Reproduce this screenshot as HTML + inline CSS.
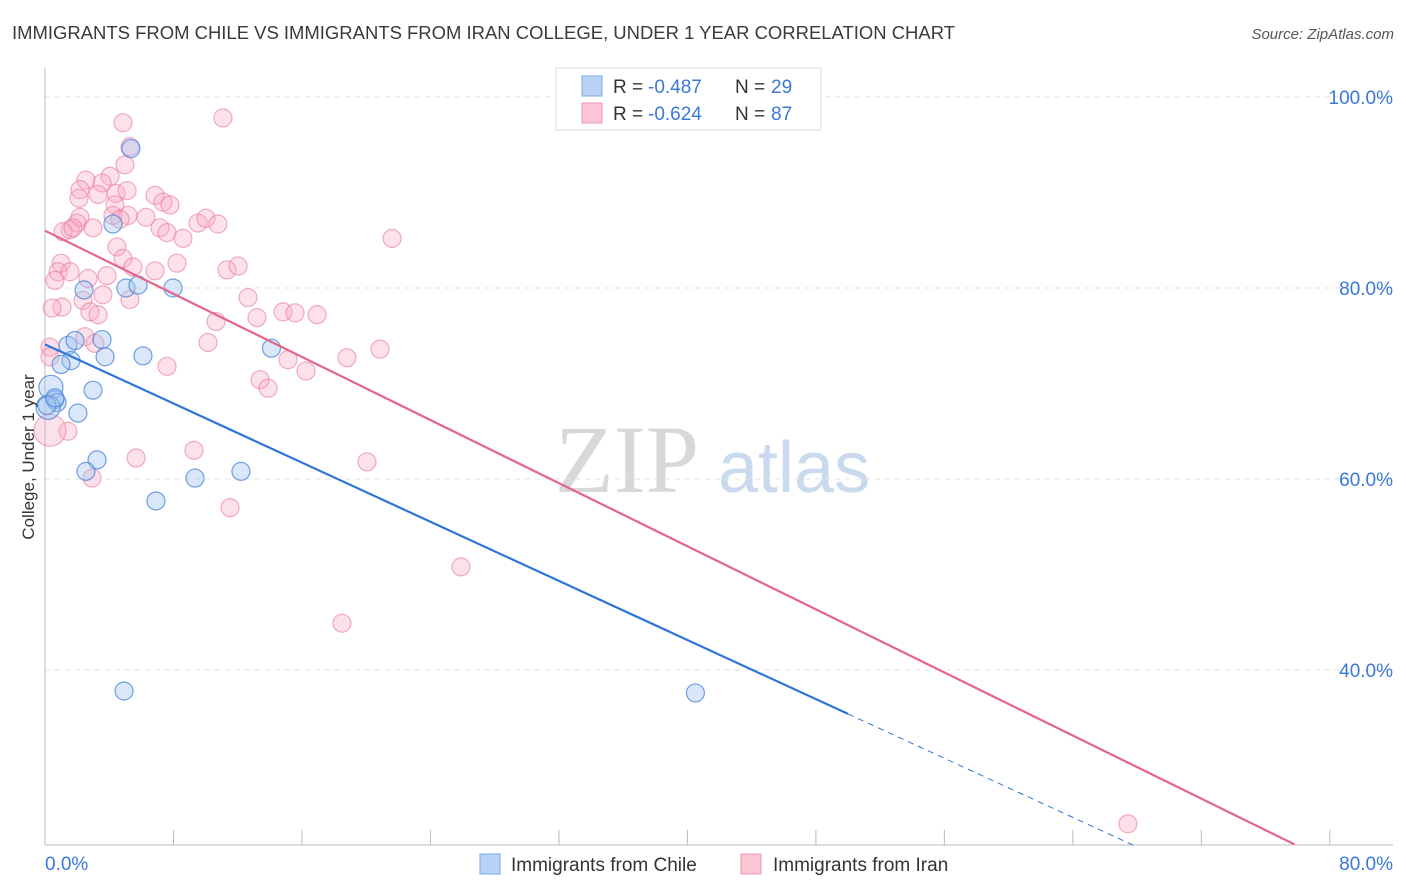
<!DOCTYPE html>
<html><head><meta charset="utf-8">
<style>
body{margin:0;background:#fff;font-family:"Liberation Sans",sans-serif;}
svg{display:block}
</style></head>
<body>
<svg id="chart" width="1406" height="892" viewBox="0 0 1406 892" xmlns="http://www.w3.org/2000/svg">
<text x="12" y="39" font-size="18" fill="#3a3a3a" textLength="943" lengthAdjust="spacingAndGlyphs">IMMIGRANTS FROM CHILE VS IMMIGRANTS FROM IRAN COLLEGE, UNDER 1 YEAR CORRELATION CHART</text>
<text x="1394" y="39" font-size="15" fill="#555" text-anchor="end" font-style="italic">Source: ZipAtlas.com</text>
<g>
<text x="555" y="492" font-size="96" fill="#d8d8d8" font-family="Liberation Serif,serif">ZIP</text>
<text x="718" y="492" font-size="72" fill="#c9d9ee">atlas</text>
</g>
<g id="grid"></g>
<g id="axes"></g>
<g id="pts"></g>
<g id="lines"></g>
<text transform="translate(34,457) rotate(-90)" font-size="17" fill="#333" text-anchor="middle">College, Under 1 year</text>
<g>
<rect x="556" y="68" width="265" height="62" fill="#fff" stroke="#ddd"/>
<rect x="582" y="76" width="20" height="20" fill="#b9d3f7" stroke="#7aa7e8"/>
<rect x="582" y="103" width="20" height="20" fill="#fcc6d5" stroke="#ee95b0"/>
<text x="613" y="93" font-size="19" fill="#333">R =</text>
<text x="648" y="93" font-size="19" fill="#3a78d6">-0.487</text>
<text x="735" y="93" font-size="19" fill="#333">N =</text>
<text x="771" y="93" font-size="19" fill="#3a78d6">29</text>
<text x="613" y="120" font-size="19" fill="#333">R =</text>
<text x="648" y="120" font-size="19" fill="#3a78d6">-0.624</text>
<text x="735" y="120" font-size="19" fill="#333">N =</text>
<text x="771" y="120" font-size="19" fill="#3a78d6">87</text>
</g>
<g>
<rect x="480" y="854" width="20" height="20" fill="#b9d3f7" stroke="#7aa7e8"/>
<text x="511" y="871" font-size="19" fill="#333">Immigrants from Chile</text>
<rect x="741" y="854" width="20" height="20" fill="#fcc6d5" stroke="#ee95b0"/>
<text x="773" y="871" font-size="19" fill="#333">Immigrants from Iran</text>
</g>
</svg>
<script>
const yTicks=[100,80,60,40];
const yTickLabels=["100.0%","80.0%","60.0%","40.0%"];
const xTickVals=[0,8,16,24,32,40,48,56,64,72,80];
const xEndLabels=["0.0%","80.0%"];
const chileX=[5.35,4.23,5.04,5.79,7.97,2.43,1.43,1.87,3.55,1.62,1.0,3.74,6.1,14.1,0.37,2.99,0.62,0.75,0.19,2.05,3.24,2.55,12.2,6.91,9.34,4.92,40.5,0.12,0.62];
const chileY=[94.6,86.7,80.0,80.3,80.0,79.8,74.0,74.5,74.6,72.4,72.0,72.8,72.9,73.7,69.6,69.3,68.3,68.0,67.5,66.9,62.0,60.8,60.8,57.7,60.1,37.8,37.6,67.7,68.5];
const iranX=[4.86,11.08,5.29,4.98,2.55,4.05,3.55,2.18,2.12,3.30,4.42,5.11,6.85,7.35,7.78,4.36,4.23,5.17,6.29,4.67,2.18,1.99,1.56,1.12,1.74,2.99,7.16,7.60,8.59,9.53,10.02,10.77,21.61,4.48,4.86,5.48,6.85,8.22,11.33,12.02,1.0,0.81,0.62,1.56,2.68,3.86,3.61,2.37,2.80,3.30,5.29,1.06,0.44,12.64,14.82,15.57,16.94,13.20,10.65,10.15,2.49,3.11,0.31,18.80,20.86,15.13,16.25,13.39,13.89,7.60,0.31,1.43,0.31,9.28,5.67,20.05,2.93,11.52,25.90,18.49,67.43];
const iranY=[97.3,97.8,94.8,92.9,91.3,91.7,91.0,90.3,89.4,89.8,89.9,90.2,89.7,89.0,88.7,88.7,87.6,87.6,87.4,87.2,87.4,86.8,86.1,85.9,86.3,86.3,86.3,85.8,85.2,86.8,87.3,86.7,85.2,84.3,83.1,82.2,81.8,82.6,81.9,82.3,82.6,81.7,80.8,81.7,81.0,81.3,79.3,78.7,77.5,77.2,78.8,78.0,77.9,79.0,77.5,77.4,77.2,76.9,76.5,74.3,74.9,74.2,73.8,72.7,73.6,72.5,71.3,70.4,69.5,71.8,72.8,65.0,65.1,63.0,62.2,61.8,60.1,57.0,50.8,44.9,23.9];
const iranBig=[72];
const chileBig=[14,18];
const chileFit=[74.1,-0.774,50,67.9];
const iranFit=[86.0,-0.826,77.8];
const X=v=>45+v*16.06, Y=v=>97+(100-v)*9.55;
const NS="http://www.w3.org/2000/svg";
function mk(p,tag,a){const e=document.createElementNS(NS,tag);for(const k in a)e.setAttribute(k,a[k]);document.getElementById(p).appendChild(e);return e;}
yTicks.forEach((t,i)=>{
 const l=mk('grid','line',{x1:45,x2:1393,y1:Y(t),y2:Y(t),stroke:'#e2e2e2','stroke-dasharray':'5,5'});
 
 
 const tx=mk('axes','text',{x:1393,y:Y(t)+7,'font-size':19,fill:'#3a78d6','text-anchor':'end'});
 tx.textContent=yTickLabels[i];
 
 
});
const ax=mk('axes','line',{x1:45,x2:45,y1:68,y2:845,stroke:'#bbb'});


const bx=mk('axes','line',{x1:45,x2:1393,y1:845,y2:845,stroke:'#bbb'});


xTickVals.forEach(t=>{
 const l=mk('axes','line',{x1:X(t),x2:X(t),y1:830,y2:845,stroke:'#bbb'});
 
 
});
[[0,'start'],[80,'end']].forEach((p,i)=>{
 const t=mk('axes','text',{x:i?1393:45,y:870,'font-size':19,fill:'#3a78d6','text-anchor':p[1]});
 t.textContent=xEndLabels[i];
 
 
});
iranX.forEach((v,i)=>{
 const c=mk('pts','circle',{cx:X(v),cy:Y(iranY[i]),r:iranBig.includes(i)?16:9,fill:'rgba(248,170,195,0.35)',stroke:'rgba(232,120,155,0.6)','stroke-width':1.2});
 
 
});
chileX.forEach((v,i)=>{
 const c=mk('pts','circle',{cx:X(v),cy:Y(chileY[i]),r:chileBig.includes(i)?12:9,fill:'rgba(160,195,240,0.4)',stroke:'rgba(70,130,215,0.75)','stroke-width':1.2});
 
 
});
const f=(fit,x)=>fit[0]+fit[1]*x;
let l1=mk('lines','line',{x1:X(0),y1:Y(f(chileFit,0)),x2:X(chileFit[2]),y2:Y(f(chileFit,chileFit[2])),stroke:'#2f74d8','stroke-width':2.2});


let l2=mk('lines','line',{x1:X(chileFit[2]),y1:Y(f(chileFit,chileFit[2])),x2:X(chileFit[3]),y2:Y(f(chileFit,chileFit[3])),stroke:'#2f74d8','stroke-width':1,'stroke-dasharray':'6,5'});


let l3=mk('lines','line',{x1:X(0),y1:Y(f(iranFit,0)),x2:X(iranFit[2]),y2:Y(f(iranFit,iranFit[2])),stroke:'#e4668f','stroke-width':2.2});


</script>
</body></html>
